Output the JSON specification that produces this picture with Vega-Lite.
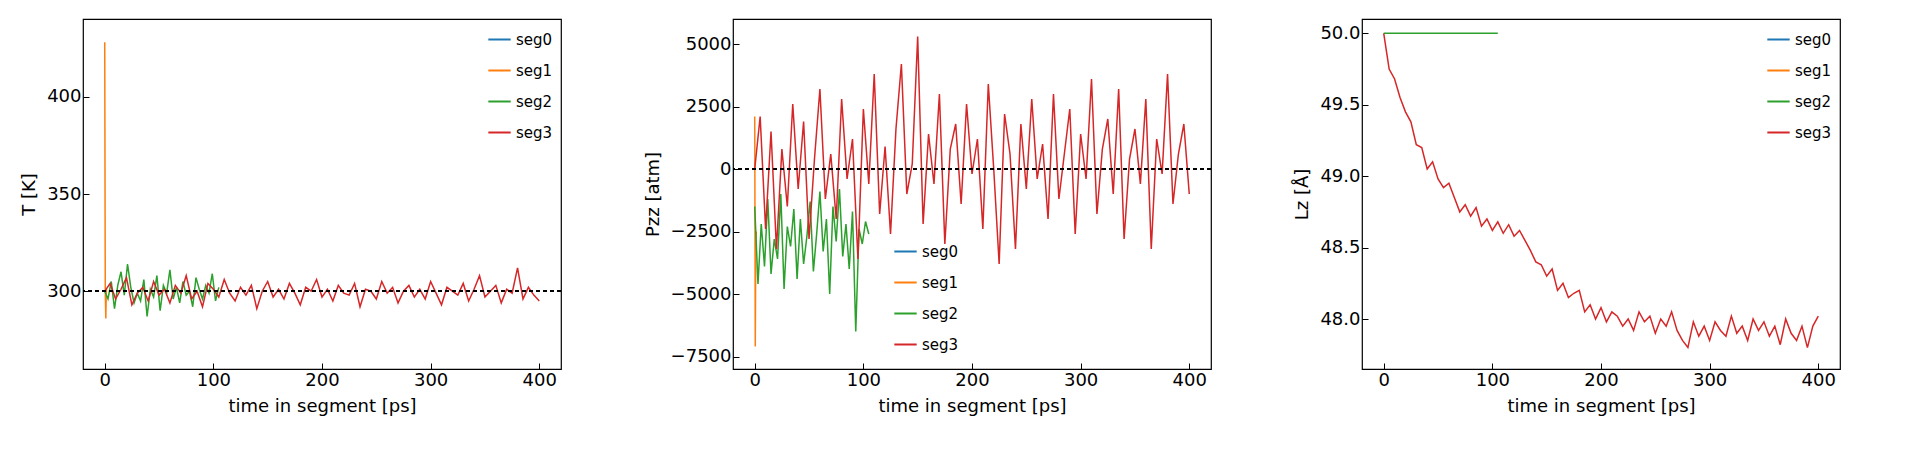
{
  "$schema": "https://vega.github.io/schema/vega-lite/v6.json",
  "background": "white",
  "padding": {"left": 20, "top": 18, "right": 20, "bottom": 5},
  "spacing": 80,
  "datasets": {
    "T": [
      {"s":"seg0","t":0,"v":300},
      {"s":"seg1","t":0,"v":428},{"s":"seg1","t":0.5,"v":300},{"s":"seg1","t":1,"v":286},{"s":"seg1","t":1.5,"v":301},
      {"s":"seg2","t":0,"v":300},{"s":"seg2","t":3,"v":296},{"s":"seg2","t":6,"v":305},{"s":"seg2","t":9,"v":291},{"s":"seg2","t":12,"v":303},{"s":"seg2","t":15,"v":310},{"s":"seg2","t":18,"v":298},{"s":"seg2","t":21,"v":314},{"s":"seg2","t":24,"v":302},{"s":"seg2","t":27,"v":294},{"s":"seg2","t":30,"v":299},{"s":"seg2","t":33,"v":295},{"s":"seg2","t":36,"v":306},{"s":"seg2","t":39,"v":287},{"s":"seg2","t":42,"v":301},{"s":"seg2","t":45,"v":297},{"s":"seg2","t":48,"v":308},{"s":"seg2","t":51,"v":290},{"s":"seg2","t":54,"v":303},{"s":"seg2","t":57,"v":299},{"s":"seg2","t":60,"v":311},{"s":"seg2","t":63,"v":296},{"s":"seg2","t":66,"v":302},{"s":"seg2","t":69,"v":294},{"s":"seg2","t":72,"v":305},{"s":"seg2","t":75,"v":298},{"s":"seg2","t":78,"v":300},{"s":"seg2","t":81,"v":292},{"s":"seg2","t":84,"v":307},{"s":"seg2","t":87,"v":301},{"s":"seg2","t":90,"v":296},{"s":"seg2","t":93,"v":303},{"s":"seg2","t":96,"v":299},{"s":"seg2","t":99,"v":309},{"s":"seg2","t":102,"v":295},{"s":"seg2","t":105,"v":302},
      {"s":"seg3","t":0,"v":300},{"s":"seg3","t":5,"v":304},{"s":"seg3","t":10,"v":296},{"s":"seg3","t":15,"v":301},{"s":"seg3","t":20,"v":307},{"s":"seg3","t":25,"v":293},{"s":"seg3","t":30,"v":299},{"s":"seg3","t":35,"v":302},{"s":"seg3","t":40,"v":295},{"s":"seg3","t":45,"v":305},{"s":"seg3","t":50,"v":298},{"s":"seg3","t":55,"v":301},{"s":"seg3","t":60,"v":294},{"s":"seg3","t":65,"v":303},{"s":"seg3","t":70,"v":299},{"s":"seg3","t":75,"v":308},{"s":"seg3","t":80,"v":296},{"s":"seg3","t":85,"v":300},{"s":"seg3","t":90,"v":292},{"s":"seg3","t":95,"v":304},{"s":"seg3","t":100,"v":301},{"s":"seg3","t":105,"v":297},{"s":"seg3","t":110,"v":306},{"s":"seg3","t":115,"v":299},{"s":"seg3","t":120,"v":295},{"s":"seg3","t":125,"v":302},{"s":"seg3","t":130,"v":298},{"s":"seg3","t":135,"v":303},{"s":"seg3","t":140,"v":291},{"s":"seg3","t":145,"v":300},{"s":"seg3","t":150,"v":305},{"s":"seg3","t":155,"v":297},{"s":"seg3","t":160,"v":301},{"s":"seg3","t":165,"v":296},{"s":"seg3","t":170,"v":304},{"s":"seg3","t":175,"v":299},{"s":"seg3","t":180,"v":293},{"s":"seg3","t":185,"v":302},{"s":"seg3","t":190,"v":300},{"s":"seg3","t":195,"v":306},{"s":"seg3","t":200,"v":297},{"s":"seg3","t":205,"v":301},{"s":"seg3","t":210,"v":295},{"s":"seg3","t":215,"v":303},{"s":"seg3","t":220,"v":299},{"s":"seg3","t":225,"v":298},{"s":"seg3","t":230,"v":304},{"s":"seg3","t":235,"v":292},{"s":"seg3","t":240,"v":301},{"s":"seg3","t":245,"v":300},{"s":"seg3","t":250,"v":296},{"s":"seg3","t":255,"v":305},{"s":"seg3","t":260,"v":299},{"s":"seg3","t":265,"v":302},{"s":"seg3","t":270,"v":294},{"s":"seg3","t":275,"v":300},{"s":"seg3","t":280,"v":303},{"s":"seg3","t":285,"v":297},{"s":"seg3","t":290,"v":301},{"s":"seg3","t":295,"v":296},{"s":"seg3","t":300,"v":305},{"s":"seg3","t":305,"v":299},{"s":"seg3","t":310,"v":293},{"s":"seg3","t":315,"v":302},{"s":"seg3","t":320,"v":300},{"s":"seg3","t":325,"v":298},{"s":"seg3","t":330,"v":304},{"s":"seg3","t":335,"v":295},{"s":"seg3","t":340,"v":301},{"s":"seg3","t":345,"v":308},{"s":"seg3","t":350,"v":297},{"s":"seg3","t":355,"v":300},{"s":"seg3","t":360,"v":303},{"s":"seg3","t":365,"v":294},{"s":"seg3","t":370,"v":301},{"s":"seg3","t":375,"v":299},{"s":"seg3","t":380,"v":312},{"s":"seg3","t":385,"v":296},{"s":"seg3","t":390,"v":302},{"s":"seg3","t":395,"v":298},{"s":"seg3","t":400,"v":295}
    ],
    "P": [
      {"s":"seg0","t":0,"v":0},
      {"s":"seg1","t":0,"v":2100},{"s":"seg1","t":0.5,"v":-7100},{"s":"seg1","t":1,"v":-3000},{"s":"seg1","t":1.5,"v":-2500},
      {"s":"seg2","t":0,"v":-1500},{"s":"seg2","t":3,"v":-4600},{"s":"seg2","t":6,"v":-2200},{"s":"seg2","t":9,"v":-3900},{"s":"seg2","t":12,"v":-1200},{"s":"seg2","t":15,"v":-4200},{"s":"seg2","t":18,"v":-2800},{"s":"seg2","t":21,"v":-3600},{"s":"seg2","t":24,"v":-1000},{"s":"seg2","t":27,"v":-4800},{"s":"seg2","t":30,"v":-2300},{"s":"seg2","t":33,"v":-3100},{"s":"seg2","t":36,"v":-1600},{"s":"seg2","t":39,"v":-4400},{"s":"seg2","t":42,"v":-2000},{"s":"seg2","t":45,"v":-3800},{"s":"seg2","t":48,"v":-2700},{"s":"seg2","t":51,"v":-1300},{"s":"seg2","t":54,"v":-4100},{"s":"seg2","t":57,"v":-2600},{"s":"seg2","t":60,"v":-900},{"s":"seg2","t":63,"v":-3300},{"s":"seg2","t":66,"v":-2000},{"s":"seg2","t":69,"v":-5000},{"s":"seg2","t":72,"v":-1500},{"s":"seg2","t":75,"v":-2900},{"s":"seg2","t":78,"v":-800},{"s":"seg2","t":81,"v":-3500},{"s":"seg2","t":84,"v":-2200},{"s":"seg2","t":87,"v":-4000},{"s":"seg2","t":90,"v":-1700},{"s":"seg2","t":93,"v":-6500},{"s":"seg2","t":96,"v":-2400},{"s":"seg2","t":99,"v":-3000},{"s":"seg2","t":102,"v":-2100},{"s":"seg2","t":105,"v":-2600},
      {"s":"seg3","t":0,"v":0},{"s":"seg3","t":5,"v":2100},{"s":"seg3","t":10,"v":-2400},{"s":"seg3","t":15,"v":1500},{"s":"seg3","t":20,"v":-3200},{"s":"seg3","t":25,"v":800},{"s":"seg3","t":30,"v":-1500},{"s":"seg3","t":35,"v":2600},{"s":"seg3","t":40,"v":-800},{"s":"seg3","t":45,"v":1900},{"s":"seg3","t":50,"v":-2800},{"s":"seg3","t":55,"v":400},{"s":"seg3","t":60,"v":3200},{"s":"seg3","t":65,"v":-1200},{"s":"seg3","t":70,"v":600},{"s":"seg3","t":75,"v":-2000},{"s":"seg3","t":80,"v":2800},{"s":"seg3","t":85,"v":-400},{"s":"seg3","t":90,"v":1200},{"s":"seg3","t":95,"v":-3600},{"s":"seg3","t":100,"v":2400},{"s":"seg3","t":105,"v":-600},{"s":"seg3","t":110,"v":3800},{"s":"seg3","t":115,"v":-1800},{"s":"seg3","t":120,"v":900},{"s":"seg3","t":125,"v":-2600},{"s":"seg3","t":130,"v":1600},{"s":"seg3","t":135,"v":4200},{"s":"seg3","t":140,"v":-1000},{"s":"seg3","t":145,"v":200},{"s":"seg3","t":150,"v":5300},{"s":"seg3","t":155,"v":-2200},{"s":"seg3","t":160,"v":1400},{"s":"seg3","t":165,"v":-600},{"s":"seg3","t":170,"v":3000},{"s":"seg3","t":175,"v":-3000},{"s":"seg3","t":180,"v":800},{"s":"seg3","t":185,"v":1800},{"s":"seg3","t":190,"v":-1400},{"s":"seg3","t":195,"v":2600},{"s":"seg3","t":200,"v":-200},{"s":"seg3","t":205,"v":1200},{"s":"seg3","t":210,"v":-2400},{"s":"seg3","t":215,"v":3400},{"s":"seg3","t":220,"v":0},{"s":"seg3","t":225,"v":-3800},{"s":"seg3","t":230,"v":2200},{"s":"seg3","t":235,"v":600},{"s":"seg3","t":240,"v":-3200},{"s":"seg3","t":245,"v":1800},{"s":"seg3","t":250,"v":-800},{"s":"seg3","t":255,"v":2800},{"s":"seg3","t":260,"v":-400},{"s":"seg3","t":265,"v":1000},{"s":"seg3","t":270,"v":-2000},{"s":"seg3","t":275,"v":3000},{"s":"seg3","t":280,"v":-1200},{"s":"seg3","t":285,"v":600},{"s":"seg3","t":290,"v":2400},{"s":"seg3","t":295,"v":-2600},{"s":"seg3","t":300,"v":1400},{"s":"seg3","t":305,"v":-400},{"s":"seg3","t":310,"v":3600},{"s":"seg3","t":315,"v":-1800},{"s":"seg3","t":320,"v":800},{"s":"seg3","t":325,"v":2000},{"s":"seg3","t":330,"v":-1000},{"s":"seg3","t":335,"v":3200},{"s":"seg3","t":340,"v":-2800},{"s":"seg3","t":345,"v":400},{"s":"seg3","t":350,"v":1600},{"s":"seg3","t":355,"v":-600},{"s":"seg3","t":360,"v":2800},{"s":"seg3","t":365,"v":-3200},{"s":"seg3","t":370,"v":1200},{"s":"seg3","t":375,"v":-200},{"s":"seg3","t":380,"v":3800},{"s":"seg3","t":385,"v":-1400},{"s":"seg3","t":390,"v":600},{"s":"seg3","t":395,"v":1800},{"s":"seg3","t":400,"v":-1000}
    ],
    "L": [
      {"s":"seg0","t":0,"v":50},
      {"s":"seg1","t":0,"v":50},
      {"s":"seg2","t":0,"v":50},{"s":"seg2","t":105,"v":50},
      {"s":"seg3","t":0,"v":50.0},{"s":"seg3","t":5,"v":49.75},{"s":"seg3","t":10,"v":49.68},{"s":"seg3","t":15,"v":49.55},{"s":"seg3","t":20,"v":49.45},{"s":"seg3","t":25,"v":49.38},{"s":"seg3","t":30,"v":49.22},{"s":"seg3","t":35,"v":49.2},{"s":"seg3","t":40,"v":49.05},{"s":"seg3","t":45,"v":49.1},{"s":"seg3","t":50,"v":48.98},{"s":"seg3","t":55,"v":48.92},{"s":"seg3","t":60,"v":48.95},{"s":"seg3","t":65,"v":48.85},{"s":"seg3","t":70,"v":48.75},{"s":"seg3","t":75,"v":48.8},{"s":"seg3","t":80,"v":48.72},{"s":"seg3","t":85,"v":48.78},{"s":"seg3","t":90,"v":48.65},{"s":"seg3","t":95,"v":48.7},{"s":"seg3","t":100,"v":48.62},{"s":"seg3","t":105,"v":48.68},{"s":"seg3","t":110,"v":48.6},{"s":"seg3","t":115,"v":48.66},{"s":"seg3","t":120,"v":48.58},{"s":"seg3","t":125,"v":48.62},{"s":"seg3","t":130,"v":48.55},{"s":"seg3","t":135,"v":48.48},{"s":"seg3","t":140,"v":48.4},{"s":"seg3","t":145,"v":48.38},{"s":"seg3","t":150,"v":48.3},{"s":"seg3","t":155,"v":48.35},{"s":"seg3","t":160,"v":48.2},{"s":"seg3","t":165,"v":48.25},{"s":"seg3","t":170,"v":48.15},{"s":"seg3","t":175,"v":48.18},{"s":"seg3","t":180,"v":48.2},{"s":"seg3","t":185,"v":48.05},{"s":"seg3","t":190,"v":48.1},{"s":"seg3","t":195,"v":48.0},{"s":"seg3","t":200,"v":48.08},{"s":"seg3","t":205,"v":47.98},{"s":"seg3","t":210,"v":48.05},{"s":"seg3","t":215,"v":48.02},{"s":"seg3","t":220,"v":47.95},{"s":"seg3","t":225,"v":48.0},{"s":"seg3","t":230,"v":47.92},{"s":"seg3","t":235,"v":48.05},{"s":"seg3","t":240,"v":47.98},{"s":"seg3","t":245,"v":48.02},{"s":"seg3","t":250,"v":47.9},{"s":"seg3","t":255,"v":48.0},{"s":"seg3","t":260,"v":47.95},{"s":"seg3","t":265,"v":48.05},{"s":"seg3","t":270,"v":47.92},{"s":"seg3","t":275,"v":47.85},{"s":"seg3","t":280,"v":47.8},{"s":"seg3","t":285,"v":47.98},{"s":"seg3","t":290,"v":47.88},{"s":"seg3","t":295,"v":47.95},{"s":"seg3","t":300,"v":47.85},{"s":"seg3","t":305,"v":47.98},{"s":"seg3","t":310,"v":47.92},{"s":"seg3","t":315,"v":47.88},{"s":"seg3","t":320,"v":48.02},{"s":"seg3","t":325,"v":47.9},{"s":"seg3","t":330,"v":47.95},{"s":"seg3","t":335,"v":47.85},{"s":"seg3","t":340,"v":48.0},{"s":"seg3","t":345,"v":47.92},{"s":"seg3","t":350,"v":47.98},{"s":"seg3","t":355,"v":47.88},{"s":"seg3","t":360,"v":47.95},{"s":"seg3","t":365,"v":47.82},{"s":"seg3","t":370,"v":48.0},{"s":"seg3","t":375,"v":47.9},{"s":"seg3","t":380,"v":47.85},{"s":"seg3","t":385,"v":47.95},{"s":"seg3","t":390,"v":47.8},{"s":"seg3","t":395,"v":47.95},{"s":"seg3","t":400,"v":48.02}
    ]
  },
  "hconcat": [
    {
      "width": 478, "height": 350,
      "data": {"name": "T"},
      "layer": [
        {
          "mark": {"type": "line", "strokeWidth": 1.5},
          "encoding": {
            "x": {"field": "t", "type": "quantitative", "scale": {"domain": [-20, 420]}, "axis": {"values": [0, 100, 200, 300, 400]}, "title": "time in segment [ps]"},
            "y": {"field": "v", "type": "quantitative", "scale": {"domain": [278, 435]}, "axis": {"values": [300, 350, 400]}, "title": "T [K]"},
            "color": {"field": "s", "type": "nominal", "legend": {"orient": "top-right", "offset": 8}}
          }
        },
        {"mark": {"type": "rule", "strokeDash": [4, 3], "color": "black", "strokeWidth": 1}, "encoding": {"y": {"datum": 300}}}
      ]
    },
    {
      "width": 478, "height": 350,
      "data": {"name": "P"},
      "layer": [
        {
          "mark": {"type": "line", "strokeWidth": 1.5},
          "encoding": {
            "x": {"field": "t", "type": "quantitative", "scale": {"domain": [-20, 420]}, "axis": {"values": [0, 100, 200, 300, 400]}, "title": "time in segment [ps]"},
            "y": {"field": "v", "type": "quantitative", "scale": {"domain": [-7700, 5900]}, "axis": {"values": [-7500, -5000, -2500, 0, 2500, 5000], "format": "d"}, "title": "Pzz [atm]"},
            "color": {"field": "s", "type": "nominal", "legend": {"orient": "none", "legendX": 160, "legendY": 220}}
          }
        },
        {"mark": {"type": "rule", "strokeDash": [4, 3], "color": "black", "strokeWidth": 1}, "encoding": {"y": {"datum": 0}}}
      ]
    },
    {
      "width": 478, "height": 350,
      "data": {"name": "L"},
      "layer": [
        {
          "mark": {"type": "line", "strokeWidth": 1.5},
          "encoding": {
            "x": {"field": "t", "type": "quantitative", "scale": {"domain": [-20, 420]}, "axis": {"values": [0, 100, 200, 300, 400]}, "title": "time in segment [ps]"},
            "y": {"field": "v", "type": "quantitative", "scale": {"domain": [47.65, 50.1]}, "axis": {"values": [48.0, 48.5, 49.0, 49.5, 50.0], "format": ".1f"}, "title": "Lz [Å]"},
            "color": {"field": "s", "type": "nominal", "legend": {"orient": "top-right", "offset": 8}}
          }
        }
      ]
    }
  ],
  "resolve": {"scale": {"color": "shared", "x": "independent", "y": "independent"}, "legend": {"color": "independent"}},
  "config": {
    "font": "DejaVu Sans",
    "view": {"stroke": "black", "strokeWidth": 1.2},
    "scale": {"zero": false},
    "range": {"category": ["#1f77b4", "#ff7f0e", "#2ca02c", "#d62728"]},
    "axis": {"grid": false, "domain": false, "tickSize": -6, "tickColor": "black", "labelPadding": 8, "labelFontSize": 18, "labelColor": "black", "titleFontSize": 18, "titleFontWeight": "normal", "titleColor": "black", "titlePadding": 8},
    "legend": {"title": null, "symbolType": "stroke", "symbolSize": 500, "symbolStrokeWidth": 2, "labelFontSize": 15, "labelColor": "black", "rowPadding": 10}
  }
}
